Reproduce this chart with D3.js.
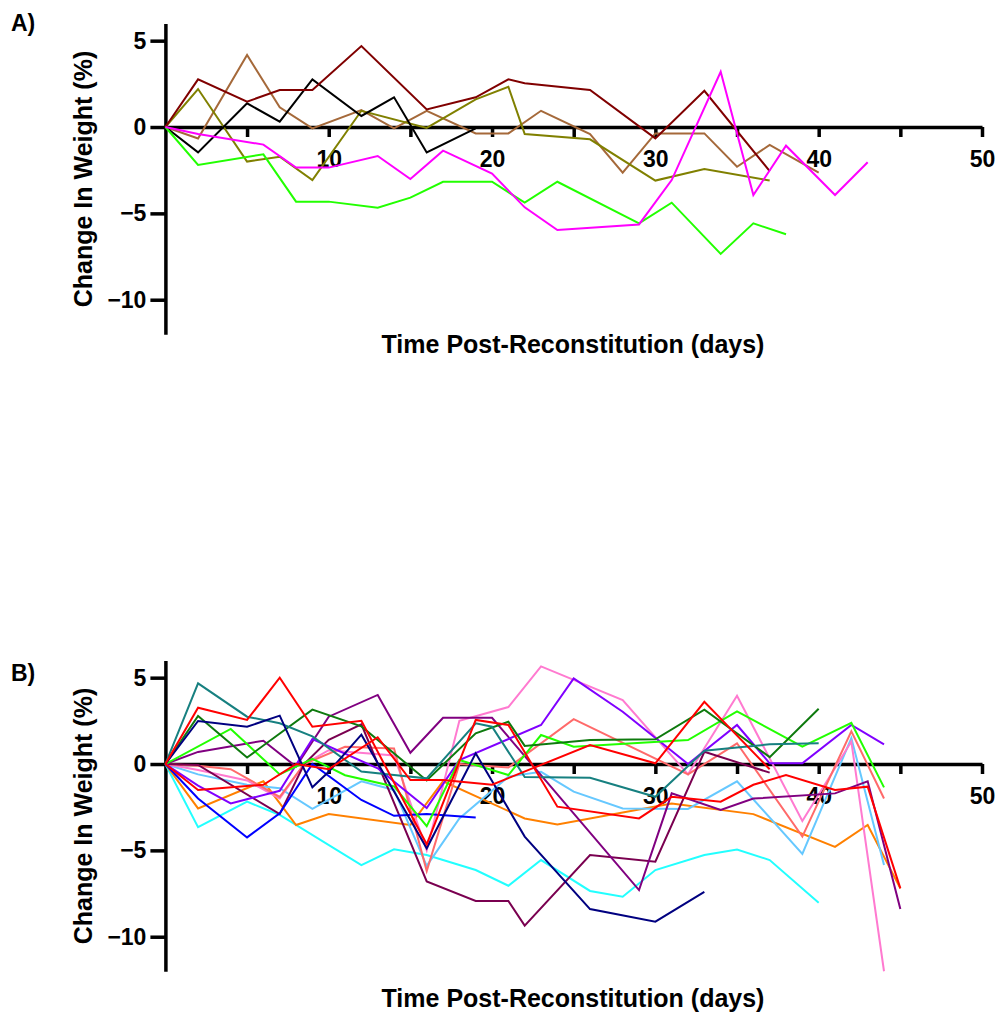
<!DOCTYPE html>
<html>
<head>
<meta charset="utf-8">
<script src="https://cdn.jsdelivr.net/npm/d3@7"></script>
<style>
  body { margin: 0; background: #fff; }
  svg text { font-family: "Liberation Sans", Arial, sans-serif; font-weight: bold; fill: #000; }
</style>
</head>
<body>
<script>
// ---- data: panel A ----
const xTicks = [5, 10, 15, 20, 25, 30, 35, 40, 45, 50];
const xTickLabels = [10, 20, 30, 40, 50];
const yTicks = [-10, -5, 0, 5];

const aDarkRedDays = [0, 2, 5, 7, 9, 12, 16, 19, 21, 22, 26, 30, 33, 37];
const aDarkRedVals = [0, 2.76, 1.47, 2.14, 2.14, 4.69, 1.02, 1.72, 2.76, 2.53, 2.14, -0.66, 2.1, -2.55];
const aBlackDays = [0, 2, 5, 7, 9, 12, 14, 16, 19];
const aBlackVals = [0, -1.47, 1.37, 0.31, 2.76, 0.64, 1.72, -1.47, -0.08];
const aTanDays = [0, 2, 5, 7, 9, 12, 14, 16, 19, 21, 23, 26, 28, 30, 33, 35, 37, 40];
const aTanVals = [0, -0.66, 4.17, 1.14, -0.08, 0.98, -0.08, 0.94, -0.37, -0.37, 0.94, -0.41, -2.64, -0.37, -0.37, -2.3, -1.04, -2.64];
const aOliveDays = [0, 2, 5, 7, 9, 12, 16, 19, 21, 22, 26, 30, 33, 37];
const aOliveVals = [0, 2.2, -2.0, -1.72, -3.07, 0.94, -0.05, 1.6, 2.33, -0.41, -0.71, -3.1, -2.43, -3.1];
const aGreenDays = [0, 2, 6, 8, 10, 13, 15, 17, 20, 22, 24, 29, 31, 34, 36, 38];
const aGreenVals = [0, -2.2, -1.58, -4.32, -4.32, -4.67, -4.09, -3.17, -3.17, -4.38, -3.17, -5.58, -4.38, -7.35, -5.58, -6.21];
const aMagentaDays = [0, 2, 6, 8, 10, 13, 15, 17, 20, 22, 24, 29, 31, 34, 36, 38, 41, 43];
const aMagentaVals = [0, -0.4, -1.02, -2.35, -2.35, -1.68, -3.01, -1.37, -2.7, -4.65, -5.96, -5.64, -3.07, 3.2, -3.94, -1.08, -3.94, -2.04];

// ---- data: panel B ----
const bTealDays = [0, 2, 5, 7, 9, 12, 14, 16, 19, 20, 22, 26, 30, 33, 35, 37, 40];
const bTealVals = [0, 4.67, 2.74, 2.36, 1.6, -0.44, -0.64, -0.83, 2.36, 2.16, -0.75, -0.8, -1.9, 0.77, 0.95, 1.14, 1.2];
const bRedADays = [0, 2, 5, 7, 9, 12, 16, 19, 21, 24, 29, 31, 34, 36, 38, 41, 43, 45];
const bRedAVals = [0, 3.26, 2.55, 5.0, 2.16, 2.5, -4.65, 2.55, 2.26, -2.47, -3.15, -1.9, -2.18, -1.2, -0.64, -1.5, -1.31, -7.2];
const bRedBDays = [0, 2, 6, 8, 10, 13, 15, 17, 20, 26, 30, 33, 37];
const bRedBVals = [0, -1.5, -1.2, 0, -0.3, 1.55, -0.93, -0.93, -1.2, 1.1, 0.04, 3.6, -0.3];
const bNavyDays = [0, 2, 5, 7, 9, 10, 12, 16, 19, 22, 26, 30, 33];
const bNavyVals = [0, 2.49, 2.16, 2.8, -1.35, -0.45, 1.7, -4.88, 0.62, -4.2, -8.4, -9.13, -7.4];
const bLimeDays = [0, 4, 7, 9, 11, 14, 16, 18, 21, 23, 25, 32, 35, 39, 42, 44];
const bLimeVals = [0, 2.03, -0.6, 0.3, -0.65, -1.3, -3.6, 0.23, -0.64, 1.68, 1.0, 1.39, 3.05, 1.0, 2.38, -1.35];
const bDarkGreenDays = [0, 2, 5, 9, 12, 16, 19, 21, 22, 26, 30, 33, 37, 40];
const bDarkGreenVals = [0, 2.78, 0.38, 3.15, 2.18, -0.95, 1.78, 2.45, 1.05, 1.39, 1.43, 3.15, 0.4, 3.2];
const bPurpleDays = [0, 2, 6, 8, 10, 13, 15, 17, 20, 29, 31, 34, 36, 41, 43, 45];
const bPurpleVals = [0, 0.7, 1.35, -0.15, 2.74, 4.0, 0.65, 2.68, 2.68, -7.3, -1.7, -2.66, -2.0, -1.7, -1.0, -8.4];
const bVioletDays = [0, 2, 4, 7, 9, 13, 16, 18, 23, 25, 28, 32, 35, 37, 39, 42, 44];
const bVioletVals = [0, -1.25, -2.28, -1.55, 1.45, -0.25, -2.55, 0.23, 2.26, 4.96, 3.03, 0, 2.26, 0.04, 0.04, 2.26, 1.14];
const bSalmonDays = [0, 2, 4, 7, 8.5, 11, 14, 16, 18, 21, 25, 32, 35, 39, 42, 44];
const bSalmonVals = [0, -0.1, -0.3, -1.9, 0, 1.0, 0.9, -6.2, 0, -0.2, 2.6, -0.6, 1.2, -4.2, 1.9, -2.0];
const bPinkDays = [0, 2, 5, 7, 8.5, 10, 14, 16, 18, 21, 23, 28, 32, 35, 39, 42, 44];
const bPinkVals = [0, -0.35, -0.95, -2.0, 0, 0.8, 0.5, -5.0, 2.5, 3.3, 5.65, 3.7, -0.6, 3.95, -3.3, 1.3, -12.0];
const bLightBlueDays = [0, 2, 5, 7, 9, 12, 14, 16, 18, 21, 23, 25, 28, 32, 35, 39, 42, 44];
const bLightBlueVals = [0, -0.6, -1.2, -1.4, -2.6, -1.0, -1.5, -5.9, -3.15, -0.73, -0.45, -1.6, -2.57, -2.6, -1.0, -5.2, 1.5, -5.85];
const bOrangeDays = [0, 2, 6, 8, 10, 15, 17, 22, 24, 31, 36, 41, 43, 45];
const bOrangeVals = [0, -2.57, -1.0, -3.53, -2.9, -3.53, -1.0, -3.15, -3.5, -2.28, -2.9, -4.8, -3.53, -7.2];
const bCyanDays = [0, 2, 5, 7, 12, 14, 16, 19, 21, 23, 26, 28, 30, 33, 35, 37, 40];
const bCyanVals = [0, -3.66, -2.18, -2.95, -5.85, -4.94, -5.27, -6.14, -7.05, -5.56, -7.35, -7.68, -6.14, -5.27, -4.95, -5.56, -8.03];
const bBlueDays = [0, 2, 5, 7, 9, 12, 14, 16, 19];
const bBlueVals = [0, -2.0, -4.25, -2.86, 0, -2.08, -3.0, -2.9, -3.1];
const bMaroonDays = [0, 2, 7, 8.5, 10, 12, 16, 19, 21, 22, 26, 30, 33, 37];
const bMaroonVals = [0, -0.05, -2.9, 0, 1.4, 2.3, -6.8, -7.93, -7.93, -9.36, -5.27, -5.66, 0.71, -0.5];

// series lists (data + colour)
const seriesA = [
  [aTanDays, aTanVals, '#a5693a'],
  [aOliveDays, aOliveVals, '#808000'],
  [aBlackDays, aBlackVals, '#000000'],
  [aDarkRedDays, aDarkRedVals, '#800000'],
  [aGreenDays, aGreenVals, '#22ff00'],
  [aMagentaDays, aMagentaVals, '#ff00ff'],
];
const seriesB = [
  [bCyanDays, bCyanVals, '#22ffff'],
  [bOrangeDays, bOrangeVals, '#ff8000'],
  [bLightBlueDays, bLightBlueVals, '#66c8ff'],
  [bPinkDays, bPinkVals, '#ff7ad0'],
  [bSalmonDays, bSalmonVals, '#ff6a6a'],
  [bMaroonDays, bMaroonVals, '#7a0050'],
  [bPurpleDays, bPurpleVals, '#800080'],
  [bVioletDays, bVioletVals, '#8000ff'],
  [bBlueDays, bBlueVals, '#0000ff'],
  [bLimeDays, bLimeVals, '#22ff00'],
  [bDarkGreenDays, bDarkGreenVals, '#0e7a0e'],
  [bTealDays, bTealVals, '#178080'],
  [bNavyDays, bNavyVals, '#000080'],
  [bRedBDays, bRedBVals, '#ff0000'],
  [bRedADays, bRedAVals, '#ff0000'],
];

const W = 1000, H = 1016;
const svg = d3.select('body').append('svg')
  .attr('width', W)
  .attr('height', H)
  .style('background', '#fff');

const x = d3.scaleLinear().domain([0, 50]).range([165.4, 982]);

function drawPanel(top, letter, series, titleGap, letterY) {
  // top = pixel y of value 6
  const y = d3.scaleLinear().domain([6, -12]).range([top, top + 18 * 17.27]);
  const g = svg.append('g');

  // y axis
  const yAxis = g.append('g')
    .attr('transform', `translate(${x(0)},0)`)
    .call(d3.axisLeft(y).tickValues(yTicks).tickSize(15).tickSizeOuter(0).tickPadding(4));
  yAxis.selectAll('text').style('font-size', '23px');

  // x axis on the zero line
  const xAxis = g.append('g')
    .attr('transform', `translate(0,${y(0)})`)
    .call(d3.axisBottom(x).tickValues(xTicks).tickSize(10).tickSizeOuter(0).tickPadding(14)
      .tickFormat(d => xTickLabels.includes(d) ? d : ''));
  xAxis.selectAll('text').style('font-size', '23px');

  g.selectAll('.domain, .tick line')
    .attr('stroke', '#000')
    .attr('stroke-width', 3.5);

  // lines
  const line = d3.line().x(d => x(d[0])).y(d => y(d[1]));
  g.selectAll('path.series')
    .data(series)
    .enter()
    .append('path')
      .attr('class', 'series')
      .attr('d', s => line(s[0].map((d, i) => [d, s[1][i]])))
      .attr('fill', 'none')
      .attr('stroke', s => s[2])
      .attr('stroke-width', 2)
      .attr('stroke-linejoin', 'miter');

  // titles
  g.append('text')
    .text('Time Post-Reconstitution (days)')
    .attr('x', 573)
    .attr('y', y(-12) + titleGap)
    .attr('text-anchor', 'middle')
    .style('font-size', '25px');

  g.append('text')
    .text('Change In Weight (%)')
    .attr('transform', `translate(92,${y(0) + 52}) rotate(-90)`)
    .attr('text-anchor', 'middle')
    .style('font-size', '25px');

  g.append('text')
    .text(letter)
    .attr('x', 11)
    .attr('y', letterY)
    .style('font-size', '23px');
}

drawPanel(23.4, 'A)', seriesA, 19, 31);
drawPanel(660.4, 'B)', seriesB, 36, 681);
</script>
</body>
</html>
